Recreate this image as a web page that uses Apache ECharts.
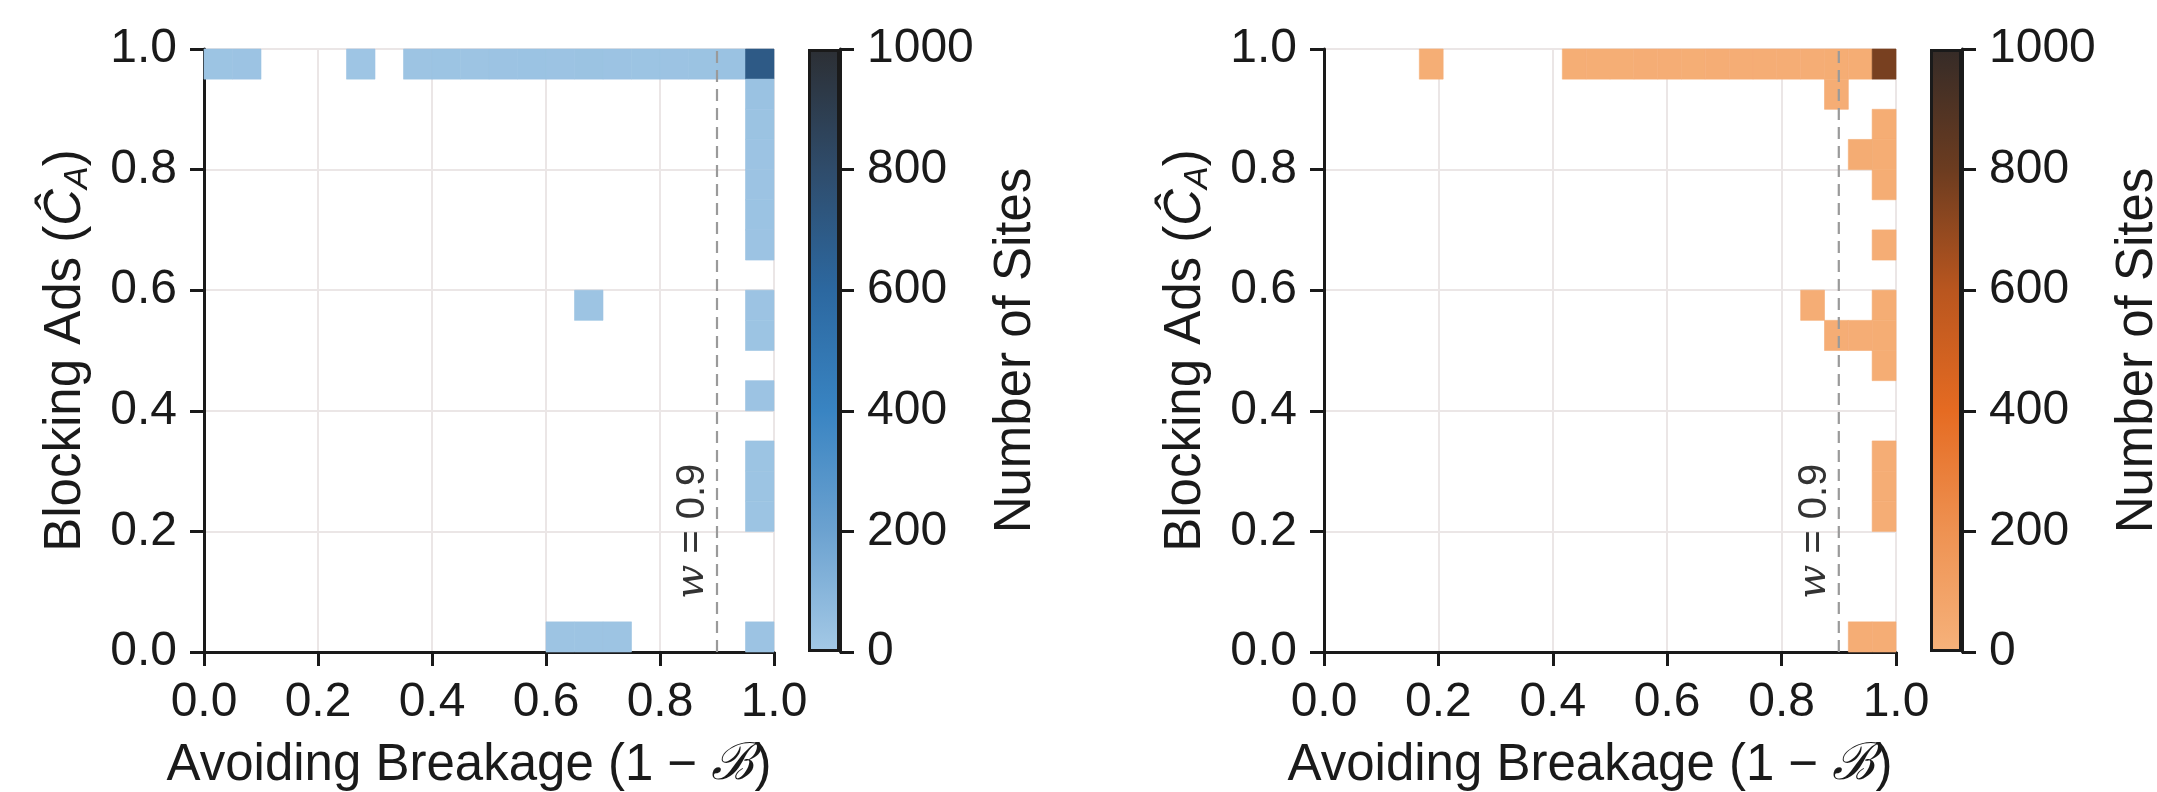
<!DOCTYPE html>
<html><head><meta charset="utf-8">
<script src="https://cdn.jsdelivr.net/npm/echarts@6/dist/echarts.min.js"></script>
<style>html,body{margin:0;padding:0;background:#fff}#c{width:2157px;height:792px}</style>
</head><body><div id="c"></div>
<script>
// ---------- data ----------
const axisTicks = [0, 0.2, 0.4, 0.6, 0.8, 1.0];
const colorbarTicks = [0, 200, 400, 600, 800, 1000];
const thresholdW = 0.9;
const leftBinWidth = 0.05;      // x bin width, left panel
const rightBinWidth = 1 / 24;   // x bin width, right panel
const binHeight = 0.05;         // y bin height, both panels

// cells: [xBin, yBin, number of sites]
const blueCells = [
  [0,19,28],[1,19,30],[5,19,22],[7,19,26],[8,19,27],[9,19,26],[10,19,30],[11,19,31],
  [12,19,29],[13,19,33],[14,19,30],[15,19,28],[16,19,30],[17,19,32],[18,19,36],[19,19,700],
  [19,18,34],[19,17,32],[19,16,30],[19,15,30],[19,14,31],[19,13,30],
  [19,11,30],[19,10,28],[19,8,30],[19,6,28],[19,5,28],[19,4,28],[19,0,30],
  [13,11,24],[12,0,26],[13,0,26],[14,0,26]
];
const orangeCells = [
  [4,19,28],[10,19,28],[11,19,28],[12,19,28],[13,19,30],[14,19,29],[15,19,28],[16,19,30],
  [17,19,29],[18,19,30],[19,19,30],[20,19,31],[21,19,32],[22,19,34],[23,19,770],
  [21,18,30],[23,17,32],[23,16,32],[23,15,32],[22,16,40],[23,13,30],
  [23,11,32],[23,10,32],[23,9,32],[20,11,30],[21,10,30],[22,10,30],
  [23,6,30],[23,5,30],[23,4,30],[22,0,30],[23,0,30]
];
const blueColors = ['#a4c9e6', '#6ca2d0', '#3984c2', '#2c68a0', '#2f4c6b', '#2c2f34'];
const orangeColors = ['#f6b27b', '#ee9252', '#e56b22', '#b9561f', '#6c3c20', '#352b27'];

// ---------- chart ----------
const FONT = '"Liberation Sans", Arial, sans-serif';
const INK = '#1a1a1a';
const TICK_FS = 48, LABEL_FS = 51;
const chart = echarts.init(document.getElementById('c'), null, {renderer: 'canvas'});

function gradientStops(colors) {
  return colors.map((c, i) => ({offset: i / (colors.length - 1), color: c}));
}

function valueAxis(gridIndex, isX) {
  const ax = {
    type: 'value', gridIndex, min: axisTicks[0], max: axisTicks[axisTicks.length - 1],
    interval: axisTicks[1] - axisTicks[0],
    nameLocation: 'middle',
    axisLine: {show: true, onZero: false, lineStyle: {color: INK, width: 3}},
    axisTick: {show: true, length: 14, lineStyle: {color: INK, width: 3}},
    axisLabel: {fontSize: TICK_FS, color: INK, fontFamily: FONT, margin: 27,
      formatter: v => v.toFixed(1)},
    splitLine: {show: true, lineStyle: {color: '#ebe6e6', width: 2}}
  };
  if (isX) {
    ax.name = 'Avoiding Breakage (1 \u2212 {b|\u212C})';
    ax.nameGap = 88;
    ax.nameTextStyle = {fontSize: LABEL_FS, color: INK, fontFamily: FONT, padding: [0, 40, 0, 0],
      rich: {b: {fontSize: LABEL_FS, color: INK, fontFamily: '"DejaVu Serif", serif', fontStyle: 'italic'}}};
  } else {
    ax.name = 'Blocking Ads ({c|\u0108}{s|A})';
    ax.nameGap = 109;
    ax.nameTextStyle = {fontSize: LABEL_FS, color: INK, fontFamily: FONT,
      rich: {
        c: {fontSize: LABEL_FS, color: INK, fontFamily: FONT, fontStyle: 'italic'},
        s: {fontSize: 34, color: INK, fontFamily: FONT, fontStyle: 'italic', verticalAlign: 'bottom', lineHeight: 58}
      }};
  }
  return ax;
}

function colorbarAxis(gridIndex) {
  return {
    type: 'value', gridIndex, position: 'right',
    min: colorbarTicks[0], max: colorbarTicks[colorbarTicks.length - 1],
    interval: colorbarTicks[1] - colorbarTicks[0],
    name: 'Number of Sites', nameLocation: 'middle', nameRotate: 90, nameGap: 150,
    nameTextStyle: {fontSize: LABEL_FS, color: INK, fontFamily: FONT},
    axisLine: {show: true, lineStyle: {color: INK, width: 3}},
    axisTick: {show: true, length: 14, lineStyle: {color: INK, width: 3}},
    axisLabel: {fontSize: TICK_FS, color: INK, fontFamily: FONT, margin: 27,
      formatter: v => String(v)},
    splitLine: {show: false}
  };
}

function cellSeries(idx, cells, binW) {
  return {
    type: 'custom', xAxisIndex: idx, yAxisIndex: idx, data: cells, z: 2,
    encode: {x: 0, y: 1},
    renderItem: function (params, api) {
      const xi = api.value(0), yi = api.value(1);
      const p0 = api.coord([xi * binW, (yi + 1) * binHeight]);
      const p1 = api.coord([(xi + 1) * binW, yi * binHeight]);
      return {type: 'rect',
        shape: {x: p0[0], y: p0[1], width: p1[0] - p0[0], height: p1[1] - p0[1]},
        style: {fill: api.visual('color'), stroke: api.visual('color'), lineWidth: 0.6}};
    }
  };
}

function thresholdSeries(idx) {
  return {
    type: 'line', xAxisIndex: idx, yAxisIndex: idx, z: 5, symbol: 'none', silent: true,
    data: [[thresholdW, axisTicks[0]], [thresholdW, axisTicks[axisTicks.length - 1]]],
    lineStyle: {color: '#9a9a9a', width: 2.2, type: [12, 7]}
  };
}

function colorbarSeries(idx, colors) {
  return {
    type: 'bar', xAxisIndex: idx, yAxisIndex: idx, barWidth: '100%',
    data: [colorbarTicks[colorbarTicks.length - 1]], silent: true,
    itemStyle: {
      color: new echarts.graphic.LinearGradient(0, 1, 0, 0, gradientStops(colors)),
      borderColor: INK, borderWidth: 3
    }
  };
}

function gridBox(left, width) {
  return {left, top: 49, width, height: 603, containLabel: false, outerBoundsMode: 'none'};
}

const option = {
  backgroundColor: '#ffffff',
  animation: false,
  grid: [gridBox(204, 570), gridBox(1324, 572), gridBox(808, 32), gridBox(1930, 32)],
  xAxis: [
    valueAxis(0, true), valueAxis(1, true),
    {type: 'category', gridIndex: 2, data: ['cb'], show: false},
    {type: 'category', gridIndex: 3, data: ['cb'], show: false}
  ],
  yAxis: [valueAxis(0, false), valueAxis(1, false), colorbarAxis(2), colorbarAxis(3)],
  visualMap: [
    {type: 'continuous', show: false, seriesIndex: 0, dimension: 2,
      min: colorbarTicks[0], max: colorbarTicks[colorbarTicks.length - 1], inRange: {color: blueColors}},
    {type: 'continuous', show: false, seriesIndex: 1, dimension: 2,
      min: colorbarTicks[0], max: colorbarTicks[colorbarTicks.length - 1], inRange: {color: orangeColors}}
  ],
  series: [
    cellSeries(0, blueCells, leftBinWidth),
    cellSeries(1, orangeCells, rightBinWidth),
    thresholdSeries(0),
    thresholdSeries(1),
    colorbarSeries(2, blueColors),
    colorbarSeries(3, orangeColors)
  ]
};
chart.setOption(option);

// "w = 0.9" annotation, placed through the axis scales
function wLabel(gridIndex) {
  const p = chart.convertToPixel({gridIndex}, [thresholdW, 0.2]);
  return {
    type: 'text', x: p[0] - 24, y: p[1], rotation: Math.PI / 2, z: 10,
    style: {text: '{i|w} = 0.9', fill: '#333', font: '40px ' + FONT,
      align: 'center', verticalAlign: 'middle',
      rich: {i: {fontStyle: 'italic', fontSize: 40, fontFamily: '"DejaVu Serif", serif', fill: '#333'}}}
  };
}
chart.setOption({graphic: [wLabel(0), wLabel(1)]});
</script></body></html>
